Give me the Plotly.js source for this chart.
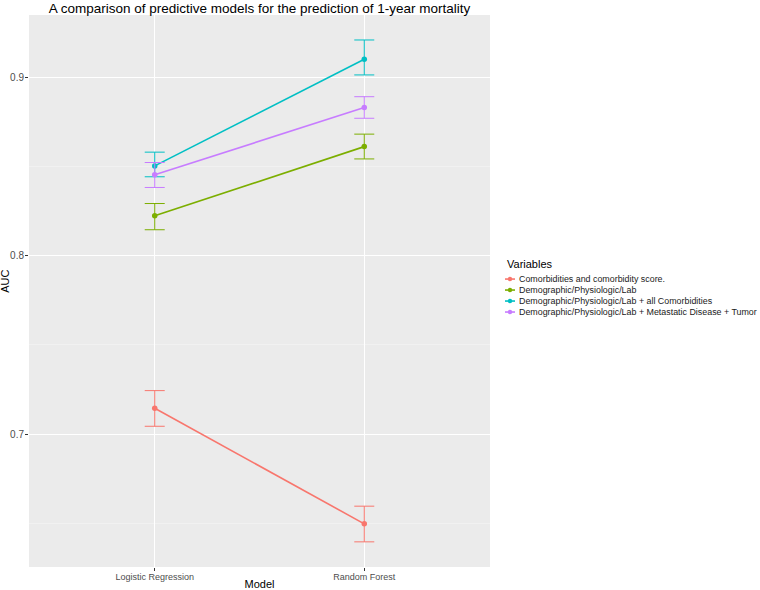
<!DOCTYPE html>
<html>
<head>
<meta charset="utf-8">
<script src="https://cdn.plot.ly/plotly-3.0.1.min.js"></script>
<style>html,body{margin:0;padding:0;background:#fff;}#chart{width:760px;height:590px;}</style>
</head>
<body>
<div id="chart"></div>
<script>
// ---- data ----
const models = ['Logistic Regression', 'Random Forest'];
const seriesNames = [
  'Comorbidities and comorbidity score.',
  'Demographic/Physiologic/Lab',
  'Demographic/Physiologic/Lab + all Comorbidities',
  'Demographic/Physiologic/Lab + Metastatic Disease + Tumor'
];
const aucComorb = [0.7145, 0.6497];
const loComorb  = [0.7044, 0.6396];
const hiComorb  = [0.7244, 0.6596];
const aucDemo   = [0.8224, 0.8612];
const loDemo    = [0.8146, 0.8543];
const hiDemo    = [0.8293, 0.8682];
const aucAll    = [0.8504, 0.9102];
const loAll     = [0.8443, 0.9014];
const hiAll     = [0.8581, 0.9210];
const aucMeta   = [0.8454, 0.8831];
const loMeta    = [0.8383, 0.8771];
const hiMeta    = [0.8523, 0.8892];
const yTickVals = [0.7, 0.8, 0.9];
const yTickText = ['0.7', '0.8', '0.9'];

// ---- styling ----
const colors = ['#F8766D', '#7CAE00', '#00BFC4', '#C77CFF'];
const FONT = 'Liberation Sans, Arial, Helvetica, sans-serif';
const aucs = [aucComorb, aucDemo, aucAll, aucMeta];
const los = [loComorb, loDemo, loAll, loMeta];
const his = [hiComorb, hiDemo, hiAll, hiMeta];

const traces = seriesNames.map((name, i) => ({
  type: 'scatter',
  mode: 'lines+markers',
  name: name,
  x: models,
  y: aucs[i],
  line: {color: colors[i], width: 1.6},
  marker: {color: colors[i], size: 5.5},
  error_y: {
    type: 'data', symmetric: false,
    array: aucs[i].map((v, k) => his[i][k] - v),
    arrayminus: aucs[i].map((v, k) => v - los[i][k]),
    color: colors[i], thickness: 1, width: 10
  },
  showlegend: false,
  hoverinfo: 'x+y+name'
}));

// legend drawn as text annotations + small key shapes
const L = 29, R = 490, T = 15, B = 567.5;
const pw = R - L, ph = B - T;
const px2x = px => (px - L) / pw;
const py2y = py => (B - py) / ph;
const legTitleY = 264.3, legRow0 = 279.3, legStep = 11.0;
const keyX0 = 505, keyX1 = 515, textX = 517;

const annotations = [{
  xref: 'paper', yref: 'paper', x: px2x(keyX0), y: py2y(legTitleY),
  xanchor: 'left', yanchor: 'middle', showarrow: false,
  text: 'Variables', font: {family: FONT, size: 11, color: '#000'}
}, {
  // y-axis title
  xref: 'paper', yref: 'paper', x: px2x(5.5), y: py2y(281.5),
  xanchor: 'center', yanchor: 'middle', showarrow: false, textangle: -90,
  text: 'AUC', font: {family: FONT, size: 11, color: '#000'}
}];
const shapes = [];
seriesNames.forEach((name, i) => {
  const cy = legRow0 + i * legStep;
  annotations.push({
    xref: 'paper', yref: 'paper', x: px2x(textX), y: py2y(cy),
    xanchor: 'left', yanchor: 'middle', showarrow: false,
    text: name, font: {family: FONT, size: 8.9, color: '#1a1a1a'}
  });
  shapes.push({type: 'line', xref: 'paper', yref: 'paper',
    x0: px2x(keyX0), x1: px2x(keyX1), y0: py2y(cy), y1: py2y(cy),
    line: {color: colors[i], width: 1.6}});
  const r = 2.2;
  const cx = (keyX0 + keyX1) / 2;
  shapes.push({type: 'circle', xref: 'paper', yref: 'paper',
    x0: px2x(cx - r), x1: px2x(cx + r), y0: py2y(cy + r), y1: py2y(cy - r),
    fillcolor: colors[i], line: {color: colors[i], width: 0}});
});

const layout = {
  width: 760, height: 590,
  margin: {l: L, r: 760 - R, t: T, b: 590 - B, pad: 0},
  paper_bgcolor: '#FFFFFF',
  plot_bgcolor: '#EBEBEB',
  showlegend: false,
  font: {family: FONT, color: '#000'},
  title: {
    text: 'A comparison of predictive models for the prediction of 1-year mortality',
    font: {family: FONT, size: 13.5, color: '#000'},
    xref: 'paper', x: 0.5, xanchor: 'center',
    yref: 'container', y: 1 - 8/590, yanchor: 'middle',
    pad: {t: 0, b: 0}
  },
  xaxis: {
    type: 'category',
    range: [-0.6, 1.6],
    showgrid: true, gridcolor: '#FFFFFF', gridwidth: 1.1,
    zeroline: false, showline: false,
    ticks: 'outside', ticklen: 3, tickcolor: '#333333', tickwidth: 1,
    ticklabelstandoff: -2,
    tickfont: {family: FONT, size: 9, color: '#4D4D4D'},
    title: {text: 'Model', font: {family: FONT, size: 11, color: '#000'}, standoff: 4},
    automargin: false, fixedrange: true
  },
  yaxis: {
    range: [0.6255, 0.935],
    tickvals: yTickVals, ticktext: yTickText,
    showgrid: true, gridcolor: '#FFFFFF', gridwidth: 1.1,
    minor: {dtick: 0.05, tick0: 0.65, showgrid: true, gridcolor: '#F5F5F5', gridwidth: 0.6, ticks: ''},
    zeroline: false, showline: false,
    ticks: 'outside', ticklen: 3, tickcolor: '#333333', tickwidth: 1,
    ticklabelstandoff: -1,
    tickfont: {family: FONT, size: 10, color: '#4D4D4D'},
    automargin: false, fixedrange: true
  },
  annotations: annotations,
  shapes: shapes
};

Plotly.newPlot('chart', traces, layout, {displayModeBar: false, staticPlot: true});
</script>
</body>
</html>
